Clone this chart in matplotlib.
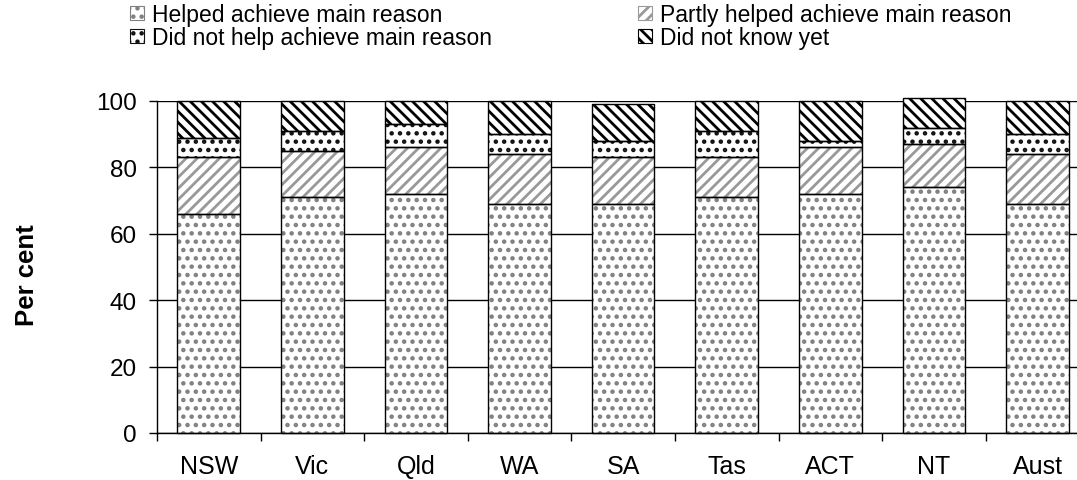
import matplotlib.pyplot as plt
from matplotlib.patches import Patch
import numpy as np

plt.rcParams['font.family'] = ['Liberation Sans', 'DejaVu Sans']
plt.rcParams['hatch.linewidth'] = 2.0

states = ['NSW', 'Vic', 'Qld', 'WA', 'SA', 'Tas', 'ACT', 'NT', 'Aust']
helped = [66, 71, 72, 69, 69, 71, 72, 74, 69]
partly = [17, 14, 14, 15, 14, 12, 14, 13, 15]
not_helped = [6, 6, 7, 6, 5, 8, 2, 5, 6]
not_known = [11, 9, 7, 10, 11, 9, 12, 9, 10]

series = [
    ('Helped achieve main reason', helped, '..', '#808080'),
    ('Partly helped achieve main reason', partly, '///', '#999999'),
    ('Did not help achieve main reason', not_helped, '..', '#111111'),
    ('Did not know yet', not_known, '\\\\\\', 'black'),
]

fig = plt.figure(figsize=(10.77, 4.81), dpi=100)
ax = fig.add_axes([156.9 / 1077, 1 - 434 / 481, 932.4 / 1077, 332 / 481])

x = np.arange(len(states))
width = 0.605
bottom = np.zeros(len(states))
handles = {}
for label, vals, hatch, hcol in series:
    vals = np.array(vals)
    # hatch layer, then a black outline on top
    ax.bar(x, vals, width, bottom=bottom, color='white', edgecolor=hcol,
           hatch=hatch, linewidth=0, clip_on=False, zorder=2)
    ax.bar(x, vals, width, bottom=bottom, fill=False, edgecolor='black',
           linewidth=1.0, clip_on=False, zorder=3)
    handles[label] = Patch(facecolor='white', edgecolor=hcol, hatch=hatch,
                           linewidth=0.8, label=label)
    bottom += vals

ax.set_xlim(-0.5, len(states) - 0.5)
ax.set_ylim(0, 100)
ax.set_yticks(range(0, 101, 20))
ax.set_xticks(x)
ax.set_xticklabels(states)
ax.set_xticks(np.arange(-0.5, len(states), 1), minor=True)
ax.tick_params(axis='x', which='major', length=0, pad=15, labelsize=18)
ax.tick_params(axis='x', which='minor', length=6, width=1, direction='out')
ax.tick_params(axis='y', length=5.5, width=1, direction='out', pad=9, labelsize=17.5)

ax.yaxis.grid(True, color='black', linewidth=1)
ax.set_axisbelow(True)
for s in ['top', 'right']:
    ax.spines[s].set_visible(False)
ax.spines['left'].set_linewidth(1)
ax.spines['bottom'].set_linewidth(1)

fig.text(27 / 1077, 1 - 275 / 481, 'Per cent', rotation=90, ha='center',
         va='center', fontsize=18.5, fontweight='bold')

order = ['Helped achieve main reason', 'Did not help achieve main reason',
         'Partly helped achieve main reason', 'Did not know yet']
fig.legend([handles[k] for k in order], order, ncol=2, loc='upper left',
           bbox_to_anchor=(130 / 1077, 1 - 4 / 481), frameon=False,
           fontsize=16.5, handlelength=0.6, handleheight=0.6,
           handletextpad=0.35, labelspacing=0.0, columnspacing=6.4,
           borderpad=0, borderaxespad=0)

fig.savefig('out.png', dpi=100)
